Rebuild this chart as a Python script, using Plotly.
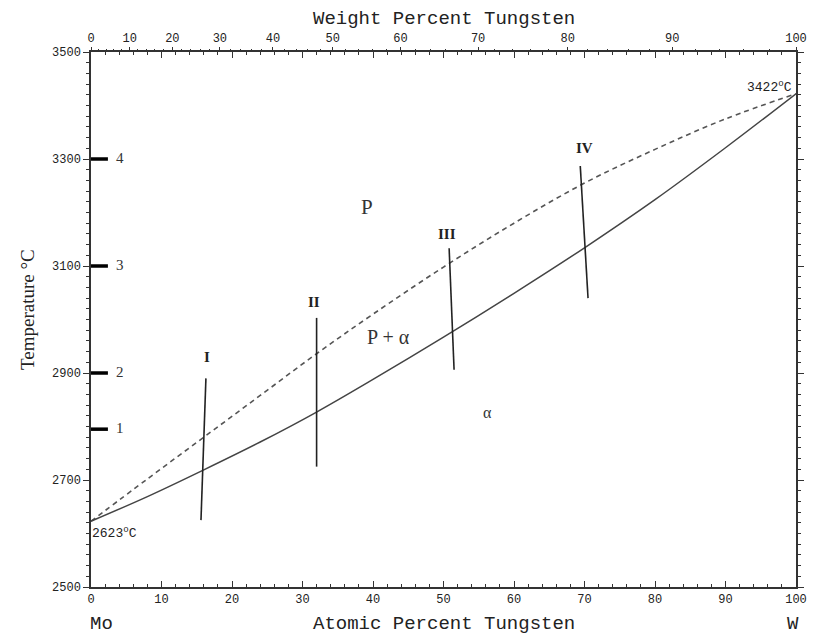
import plotly.graph_objects as go

# ---------------- data ----------------
liq_x = [0, 8, 16, 24, 32, 40, 50, 60, 70, 80, 90, 100]
liq_t = [2623, 2702, 2780, 2858, 2936, 3010, 3098, 3180, 3255, 3318, 3375, 3422]

sol_x = [0, 8, 16, 24, 32, 40, 50, 60, 70, 80, 90, 100]
sol_t = [2623, 2669, 2719, 2771, 2827, 2888, 2967, 3049, 3134, 3224, 3321, 3422]

sample_names = ["I", "II", "III", "IV"]
sample_x_top = [16.3, 32.0, 50.8, 69.4]
sample_t_top = [2890, 3003, 3133, 3287]
sample_x_bot = [15.6, 32.0, 51.5, 70.5]
sample_t_bot = [2625, 2725, 2906, 3040]
sample_lbl_x = [16.4, 31.6, 50.5, 70.0]
sample_lbl_t = [2929, 3033, 3159, 3320]

mark_names = ["1", "2", "3", "4"]
mark_t = [2795, 2900, 3100, 3300]

region_names = ["P", "P + \u03b1", "\u03b1"]
region_x = [39.1, 42.2, 56.2]
region_t = [3210, 2968, 2827]

at_ticks = list(range(0, 101, 10))
temp_ticks = list(range(2500, 3501, 200))
wt_ticks = list(range(0, 101, 10))
wt_minor = list(range(0, 101, 2))

M_MO, M_W = 95.95, 183.84


def wt_to_at(w):
    a = w / M_W
    b = (100 - w) / M_MO
    return 100 * a / (a + b)


MONO = "Liberation Mono"
SERIF = "Liberation Serif"
INK = "#222222"

fig = go.Figure()

fig.add_trace(go.Scatter(x=liq_x, y=liq_t, mode="lines", line_shape="spline",
                         line=dict(color="#555555", width=1.6, dash="5px,4px"),
                         hoverinfo="skip", showlegend=False))
fig.add_trace(go.Scatter(x=sol_x, y=sol_t, mode="lines", line_shape="spline",
                         line=dict(color="#444444", width=1.5),
                         hoverinfo="skip", showlegend=False))

for i in range(len(sample_names)):
    fig.add_trace(go.Scatter(x=[sample_x_top[i], sample_x_bot[i]],
                             y=[sample_t_top[i], sample_t_bot[i]],
                             mode="lines", line=dict(color="#222222", width=1.6),
                             hoverinfo="skip", showlegend=False))
    fig.add_annotation(x=sample_lbl_x[i], y=sample_lbl_t[i], text="<b>%s</b>" % sample_names[i],
                       showarrow=False, font=dict(family=SERIF, size=15, color="#222222"))

for i in range(len(mark_names)):
    fig.add_trace(go.Scatter(x=[0, 2.4], y=[mark_t[i], mark_t[i]], mode="lines",
                             line=dict(color="black", width=3.5),
                             hoverinfo="skip", showlegend=False))
    fig.add_annotation(x=3.3, y=mark_t[i], text=mark_names[i], showarrow=False,
                       xanchor="left", yshift=1,
                       font=dict(family=SERIF, size=15, color="#333333"))

region_sizes = [21, 20, 16]
for i in range(len(region_names)):
    fig.add_annotation(x=region_x[i], y=region_t[i], text=region_names[i], showarrow=False,
                       font=dict(family=SERIF, size=region_sizes[i], color="#333333"))

fig.add_annotation(x=0, y=liq_t[0], text="2623<sup>o</sup>C", showarrow=False,
                   xanchor="left", yanchor="top", yshift=-1, xshift=-1,
                   font=dict(family=MONO, size=13, color=INK))
fig.add_annotation(x=100, y=liq_t[-1], text="3422<sup>o</sup>C", showarrow=False,
                   xanchor="right", yanchor="bottom", xshift=-2, yshift=-3,
                   font=dict(family=MONO, size=13, color=INK))

# axis titles
fig.add_annotation(x=0.5, y=1, xref="paper", yref="paper", yshift=46,
                   text="Weight Percent Tungsten", showarrow=False,
                   font=dict(family=MONO, size=19, color=INK))
fig.add_annotation(x=0.5, y=0, xref="paper", yref="paper", yshift=-50,
                   text="Atomic Percent Tungsten", showarrow=False,
                   font=dict(family=MONO, size=19, color=INK))
fig.add_annotation(x=0.0, y=0, xref="paper", yref="paper", yshift=-50, xshift=-3,
                   text="Mo", showarrow=False, xanchor="left",
                   font=dict(family=MONO, size=19, color=INK))
fig.add_annotation(x=1.0, y=0, xref="paper", yref="paper", yshift=-50, xshift=5,
                   text="W", showarrow=False,
                   font=dict(family=MONO, size=19, color=INK))
fig.add_annotation(x=0, y=0.5, xref="paper", yref="paper", xshift=-76, yshift=10,
                   text="Temperature \u00b0C", showarrow=False, textangle=-90,
                   font=dict(family=SERIF, size=19, color=INK))

# invisible trace on top axis
fig.add_trace(go.Scatter(x=[0, 100], y=[2500, 2500], xaxis="x2", mode="markers",
                         marker=dict(opacity=0), hoverinfo="skip", showlegend=False))

fig.update_layout(
    width=819, height=641,
    margin=dict(l=91, r=20, t=52, b=54),
    paper_bgcolor="white", plot_bgcolor="white",
    showlegend=False,
    xaxis=dict(range=[0, 100], tickvals=at_ticks, ticktext=[str(v) for v in at_ticks],
               showgrid=False, zeroline=False, showline=True, linecolor="#333333", linewidth=1.5,
               ticks="inside", ticklen=6, tickcolor="#333333", mirror="ticks",
               minor=dict(dtick=2, ticks="inside", ticklen=3, tickcolor="#333333"),
               tickfont=dict(family=MONO, size=12, color=INK)),
    xaxis2=dict(range=[0, 100], overlaying="x", side="top", anchor="y",
                tickvals=[wt_to_at(w) for w in wt_ticks], ticktext=[str(w) for w in wt_ticks],
                showgrid=False, zeroline=False, showline=False,
                ticks="outside", ticklen=4, tickcolor="#333333",
                minor=dict(tickvals=[wt_to_at(w) for w in wt_minor], ticks="outside",
                           ticklen=2, tickcolor="#333333"),
                tickfont=dict(family=MONO, size=12, color=INK)),
    yaxis=dict(range=[2500, 3500], tickvals=temp_ticks, ticktext=[str(v) for v in temp_ticks],
               showgrid=False, zeroline=False,
               showline=True, linecolor="#333333", linewidth=1.5,
               ticks="outside", ticklen=6, tickcolor="#333333", mirror="ticks",
               minor=dict(dtick=20, ticks="outside", ticklen=3, tickcolor="#333333"),
               tickfont=dict(family=MONO, size=12, color=INK)),
)

fig.write_html("out.html")
